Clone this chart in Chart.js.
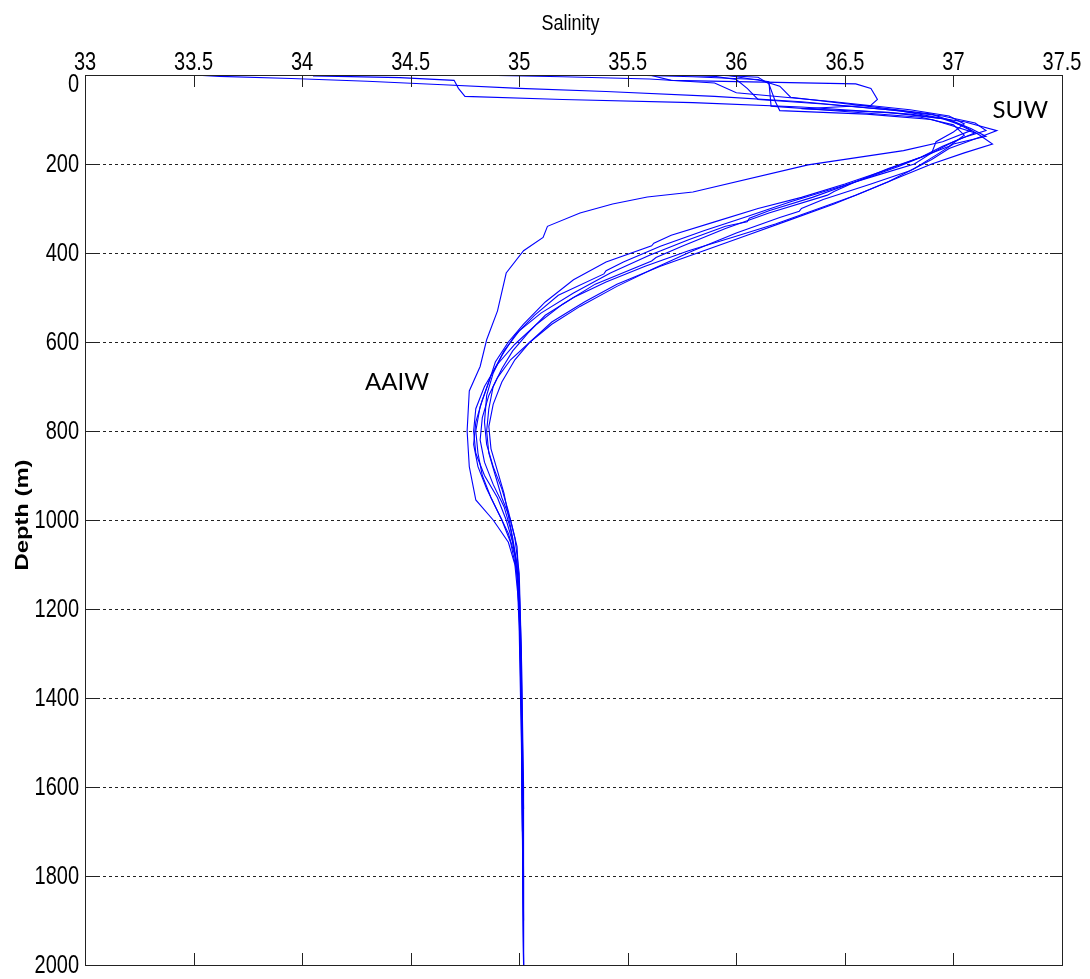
<!DOCTYPE html>
<html lang="en">
<head>
    <meta charset="UTF-8">
    <title>Salinity profiles</title>
    <script src="https://cdn.jsdelivr.net/npm/chart.js@4.4.1/dist/chart.umd.min.js"></script>
    <style>
        body { margin: 0; background: #fff; }
        canvas { display: block; }
    </style>
</head>
<body>
    <canvas id="profileChart" width="1090" height="979"></canvas>

    <script>
        // axis ticks
        var salinityTicks = [33, 33.5, 34, 34.5, 35, 35.5, 36, 36.5, 37, 37.5];
        var salinityLabels = ['33', '33.5', '34', '34.5', '35', '35.5', '36', '36.5', '37', '37.5'];
        var depthTicks = [0, 200, 400, 600, 800, 1000, 1200, 1400, 1600, 1800, 2000];
        var depthLabels = ['0', '200', '400', '600', '800', '1000', '1200', '1400', '1600', '1800', '2000'];
        var xTitle = 'Salinity';
        var yTitle = 'Depth (m)';

        // water mass labels: [text, salinity, depth]
        var waterMasses = [
            ['SUW', 37.18, 80],
            ['AAIW', 34.29, 690]
        ];

        // profiles, each one depth list + salinity list
        var depth1 = [0, 3, 8, 14, 22, 30, 37, 48, 60, 78, 92, 108, 125, 140, 160, 185, 210, 240, 262, 270, 310, 345, 385, 410, 418, 470, 515, 560, 605, 650, 700, 750, 800, 850, 900, 950, 1000, 1050, 1100, 1200, 1400, 1700, 2000];
        var sal1 = [33.50, 33.62, 33.95, 34.30, 34.65, 35.00, 35.40, 35.90, 36.30, 36.70, 36.95, 37.10, 37.15, 37.05, 36.95, 36.85, 36.70, 36.55, 36.45, 36.42, 36.15, 35.95, 35.75, 35.63, 35.61, 35.35, 35.20, 35.08, 34.98, 34.90, 34.84, 34.80, 34.79, 34.80, 34.84, 34.90, 34.94, 34.97, 34.99, 35.00, 35.01, 35.015, 35.02];

        var depth2 = [2, 6, 12, 30, 48, 55, 62, 72, 88, 105, 125, 140, 165, 190, 215, 245, 280, 300, 306, 320, 355, 395, 435, 475, 520, 560, 600, 640, 680, 720, 770, 820, 870, 920, 970, 1020, 1080, 1150, 1300, 1600, 2000];
        var sal2 = [34.05, 34.45, 34.70, 34.72, 34.75, 35.20, 35.80, 36.30, 36.80, 37.05, 37.20, 37.12, 36.98, 36.90, 36.80, 36.62, 36.40, 36.30, 36.29, 36.20, 36.00, 35.80, 35.62, 35.45, 35.28, 35.15, 35.05, 34.96, 34.90, 34.86, 34.83, 34.82, 34.84, 34.88, 34.93, 34.96, 34.98, 35.00, 35.01, 35.02, 35.02];

        var depth3 = [0, 12, 20, 30, 55, 68, 76, 84, 98, 115, 135, 155, 175, 200, 230, 260, 290, 325, 360, 395, 430, 470, 510, 555, 600, 640, 690, 740, 790, 840, 890, 940, 990, 1040, 1100, 1200, 1450, 2000];
        var sal3 = [35.60, 35.70, 36.55, 36.62, 36.65, 36.62, 36.30, 36.70, 36.95, 37.05, 37.12, 37.18, 37.05, 36.90, 36.75, 36.60, 36.45, 36.25, 36.05, 35.85, 35.65, 35.45, 35.30, 35.15, 35.05, 34.98, 34.92, 34.88, 34.86, 34.87, 34.90, 34.93, 34.95, 34.97, 34.99, 35.00, 35.01, 35.02];

        var depth4 = [0, 5, 20, 60, 80, 88, 100, 118, 130, 150, 175, 205, 240, 275, 305, 322, 330, 340, 370, 405, 445, 490, 535, 575, 620, 670, 720, 780, 830, 880, 930, 980, 1040, 1120, 1300, 1800, 2000];
        var sal4 = [35.90, 36.10, 36.15, 36.18, 36.20, 36.60, 36.90, 37.02, 37.10, 37.00, 36.90, 36.75, 36.55, 36.35, 36.15, 36.06, 36.05, 35.95, 35.78, 35.60, 35.42, 35.25, 35.10, 35.00, 34.93, 34.88, 34.85, 34.84, 34.85, 34.88, 34.92, 34.95, 34.98, 35.00, 35.01, 35.02, 35.02];

        var depth5 = [0, 4, 10, 25, 50, 70, 88, 105, 125, 150, 170, 202, 263, 274, 290, 310, 340, 365, 395, 445, 530, 595, 655, 710, 800, 880, 955, 1000, 1050, 1100, 1200, 1400, 2000];
        var sal5 = [35.50, 35.80, 36.10, 36.20, 36.25, 36.60, 36.90, 37.00, 37.08, 36.95, 36.77, 36.33, 35.80, 35.59, 35.43, 35.28, 35.13, 35.11, 35.02, 34.94, 34.90, 34.85, 34.82, 34.77, 34.76, 34.77, 34.80, 34.88, 34.95, 34.98, 35.00, 35.01, 35.02];

        var depth6 = [0, 8, 15, 70, 82, 95, 112, 135, 160, 185, 215, 245, 275, 300, 330, 360, 378, 384, 420, 460, 510, 560, 600, 645, 690, 745, 800, 850, 900, 950, 1000, 1050, 1120, 1250, 1500, 1700];
        var sal6 = [35.95, 36.05, 36.15, 36.16, 36.50, 36.85, 37.00, 37.05, 36.98, 36.85, 36.68, 36.50, 36.30, 36.10, 35.90, 35.70, 35.62, 35.61, 35.40, 35.25, 35.12, 35.02, 34.95, 34.89, 34.86, 34.82, 34.80, 34.81, 34.83, 34.87, 34.92, 34.96, 34.99, 35.00, 35.01, 35.015];

        var depth7 = [0, 3, 10, 30, 55, 65, 80, 100, 120, 138, 155, 180, 210, 240, 270, 300, 335, 365, 395, 430, 465, 500, 540, 580, 620, 660, 700, 750, 800, 850, 900, 950, 1000, 1060, 1150, 1350, 1650];
        var sal7 = [35.70, 35.90, 36.00, 36.05, 36.10, 36.40, 36.75, 36.98, 37.08, 37.15, 37.00, 36.92, 36.82, 36.70, 36.55, 36.38, 36.18, 35.98, 35.78, 35.58, 35.40, 35.25, 35.12, 35.04, 34.97, 34.92, 34.88, 34.86, 34.85, 34.86, 34.89, 34.92, 34.96, 34.99, 35.00, 35.01, 35.02];

        var depth8 = [1, 4, 9, 18, 40, 60, 78, 92, 110, 128, 150, 175, 200, 225, 255, 285, 318, 350, 385, 420, 440, 447, 495, 540, 585, 630, 675, 730, 780, 830, 880, 930, 980, 1030, 1080, 1180, 1400, 1900];
        var sal8 = [34.90, 35.20, 35.60, 35.90, 36.00, 36.45, 36.80, 36.98, 37.05, 37.00, 36.92, 36.90, 36.82, 36.65, 36.45, 36.25, 36.05, 35.85, 35.65, 35.48, 35.40, 35.39, 35.18, 35.07, 34.98, 34.92, 34.87, 34.83, 34.80, 34.79, 34.81, 34.85, 34.90, 34.95, 34.98, 35.00, 35.01, 35.02];

        var profiles = [
            [depth1, sal1], [depth2, sal2], [depth3, sal3], [depth4, sal4],
            [depth5, sal5], [depth6, sal6], [depth7, sal7], [depth8, sal8]
        ];

        var datasets = profiles.map(function(p, i) {
            return {
                label: 'Profile ' + (i + 1),
                data: p[0].map(function(d, j) { return { x: p[1][j], y: d }; }),
                showLine: true,
                borderColor: '#0000ff',
                borderWidth: 1.1,
                pointRadius: 0,
                tension: 0,
                fill: false
            };
        });

        // the original figure is stretched vertically, so text is drawn taller than wide
        var STRETCH = 1.25;
        function tallText(ctx, text, x, y, rotate) {
            ctx.save();
            ctx.translate(x, y);
            if (rotate) {
                ctx.rotate(-Math.PI / 2);
                ctx.scale(STRETCH, 1);
            } else {
                ctx.scale(1, STRETCH);
            }
            ctx.fillText(text, 0, 0);
            ctx.restore();
        }

        // frame, dotted depth grid, inward ticks, labels
        var framePlugin = {
            id: 'frame',
            beforeDatasetsDraw: function(chart) {
                var ctx = chart.ctx, area = chart.chartArea, ys = chart.scales.y;
                ctx.save();
                ctx.strokeStyle = '#222';
                ctx.lineWidth = 1;
                ctx.setLineDash([3, 3]);
                depthTicks.forEach(function(d) {
                    if (d === ys.min || d === ys.max) return;
                    var py = Math.round(ys.getPixelForValue(d)) + 0.5;
                    ctx.beginPath();
                    ctx.moveTo(area.left, py);
                    ctx.lineTo(area.right, py);
                    ctx.stroke();
                });
                ctx.restore();
            },
            afterDatasetsDraw: function(chart) {
                var ctx = chart.ctx, area = chart.chartArea;
                var xs = chart.scales.x, ys = chart.scales.y;
                var tick = 12;
                ctx.save();
                ctx.strokeStyle = '#222';
                ctx.lineWidth = 1;
                ctx.setLineDash([]);
                salinityTicks.forEach(function(s) {
                    var px = Math.round(xs.getPixelForValue(s)) + 0.5;
                    ctx.beginPath();
                    ctx.moveTo(px, area.top); ctx.lineTo(px, area.top + tick);
                    ctx.moveTo(px, area.bottom); ctx.lineTo(px, area.bottom - tick);
                    ctx.stroke();
                });
                depthTicks.forEach(function(d) {
                    var py = Math.round(ys.getPixelForValue(d)) + 0.5;
                    ctx.beginPath();
                    ctx.moveTo(area.left, py); ctx.lineTo(area.left + tick, py);
                    ctx.moveTo(area.right, py); ctx.lineTo(area.right - tick, py);
                    ctx.stroke();
                });
                ctx.strokeRect(Math.round(area.left) + 0.5, Math.round(area.top) + 0.5,
                    Math.round(area.right - area.left), Math.round(area.bottom - area.top));

                ctx.fillStyle = '#000';

                // tick labels
                ctx.font = '20px "Liberation Sans", Arial, sans-serif';
                ctx.textAlign = 'center';
                ctx.textBaseline = 'alphabetic';
                salinityTicks.forEach(function(s, i) {
                    tallText(ctx, salinityLabels[i], xs.getPixelForValue(s), area.top - 5);
                });
                ctx.textAlign = 'right';
                ctx.textBaseline = 'middle';
                depthTicks.forEach(function(d, i) {
                    // keep the top label clear of the salinity labels
                    var py = Math.max(ys.getPixelForValue(d) + 1, area.top + 10);
                    tallText(ctx, depthLabels[i], area.left - 6, py);
                });

                // axis titles
                ctx.textAlign = 'center';
                ctx.textBaseline = 'alphabetic';
                ctx.font = '18px "Liberation Sans", Arial, sans-serif';
                tallText(ctx, xTitle, (area.left + area.right) / 2 - 3, 30);
                ctx.textBaseline = 'middle';
                ctx.font = 'bold 19px "Liberation Sans", Arial, sans-serif';
                tallText(ctx, yTitle, 23, (area.top + area.bottom) / 2 - 5, true);

                // water masses
                ctx.font = '24px Lato, "Open Sans", sans-serif';
                ctx.textAlign = 'left';
                ctx.textBaseline = 'middle';
                waterMasses.forEach(function(w) {
                    ctx.fillText(w[0], xs.getPixelForValue(w[1]), ys.getPixelForValue(w[2]));
                });
                ctx.restore();
            }
        };

        var ctx = document.getElementById('profileChart').getContext('2d');
        var myChart = new Chart(ctx, {
            type: 'scatter',
            data: { datasets: datasets },
            options: {
                responsive: false,
                animation: false,
                events: [],
                layout: { padding: { left: 0, right: 28, top: 0, bottom: 14 } },
                plugins: {
                    legend: { display: false },
                    tooltip: { enabled: false }
                },
                scales: {
                    x: {
                        type: 'linear',
                        position: 'top',
                        min: 33,
                        max: 37.5,
                        grid: { display: false, drawTicks: false },
                        border: { display: false },
                        ticks: { display: false },
                        afterFit: function(scale) { scale.height = 75; }
                    },
                    y: {
                        type: 'linear',
                        position: 'left',
                        reverse: true,
                        min: 0,
                        max: 2000,
                        grid: { display: false, drawTicks: false },
                        border: { display: false },
                        ticks: { display: false },
                        afterFit: function(scale) { scale.width = 85; }
                    }
                }
            },
            plugins: [framePlugin]
        });
    </script>
</body>
</html>
